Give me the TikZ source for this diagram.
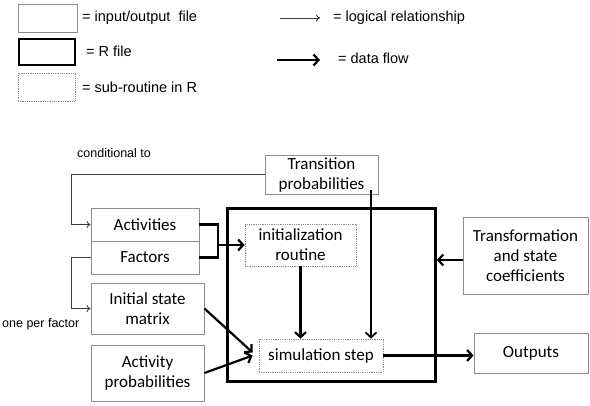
\documentclass[tikz,border=0pt]{standalone}
\usepackage{fontspec}
\setmainfont{Carlito}
\newfontfamily\legendfont{Liberation Sans}
\usetikzlibrary{arrows.meta}
\definecolor{boxgray}{RGB}{140,140,140}
\definecolor{linegray}{RGB}{60,60,60}

\begin{document}
\begin{tikzpicture}[x=1pt, y=-1pt,
  filebox/.style={draw=boxgray, line width=0.9pt, inner sep=0pt, align=center,
    font=\fontsize{17}{20}\selectfont},
  rbox/.style={draw=black, line width=2.6pt, inner sep=0pt},
  subbox/.style={draw=boxgray, line width=0.8pt, densely dotted, inner sep=0pt, align=center,
    font=\fontsize{17}{20}\selectfont},
  legendtext/.style={anchor=west, inner sep=0pt, font=\legendfont\fontsize{14.5}{17}\selectfont},
  notetext/.style={anchor=west, inner sep=0pt, font=\legendfont\fontsize{12.5}{15}\selectfont},
  logic/.style={draw=linegray, line width=0.9pt, -{To[length=4pt,width=7pt]}},
  flow/.style={draw=black, line width=2.2pt, -{Straight Barb[length=5pt,width=11pt]}}]
\useasboundingbox (0,0) rectangle (590,405);
\node [filebox, minimum width=59pt, minimum height=28pt] (legfile) at (47.5,18) {};
\node [rbox, minimum width=56pt, minimum height=26pt] (legr) at (47,52) {};
\node [subbox, minimum width=57pt, minimum height=28pt] (legsub) at (46.5,87) {};
\node [legendtext] (legfiletext) at (82,18) {= input/output\ \ file};
\node [legendtext] (legrtext) at (86,51) {= R file};
\node [legendtext] (legsubtext) at (82,87) {= sub-routine\ in R};
\coordinate (loga) at (280,18);
\coordinate (logb) at (320,18);
\draw [logic] (loga) -- (logb);
\node [legendtext] (logtext) at (333,18) {= logical relationship};
\coordinate (flowa) at (277,60);
\coordinate (flowb) at (320,60);
\draw [flow] (flowa) -- (flowb);
\node [legendtext] (flowtext) at (338,58) {= data flow};
\node [notetext] (condtext) at (77,153) {conditional to};
\node [notetext] (pertext) at (2,324) {one per factor};
\node [rbox, minimum width=208pt, minimum height=173pt] (rfile) at (331.5,295) {};
\node [filebox, minimum width=113pt, minimum height=39pt] (trans) at (321.5,174.5) {Transition\\probabilities};
\node [filebox, minimum width=108pt, minimum height=33pt] (act) at (145,224.5) {Activities};
\node [filebox, minimum width=108pt, minimum height=33pt] (fac) at (145,257.5) {Factors};
\node [filebox, minimum width=113pt, minimum height=51pt] (initst) at (147.5,308.5) {Initial state\\matrix};
\node [filebox, minimum width=113pt, minimum height=56pt] (actprob) at (147.5,373) {Activity\\probabilities};
\node [subbox, minimum width=111pt, minimum height=42pt] (initr) at (300.5,245) {initialization\\routine};
\node [subbox, minimum width=124pt, minimum height=33pt] (sim) at (321,355.5) {simulation step};
\node [filebox, minimum width=125pt, minimum height=77pt] (transf) at (525.5,255.5) {Transformation\\and state\\coefficients};
\node [filebox, minimum width=114pt, minimum height=40pt] (outp) at (531,353) {Outputs};
\draw [logic] (trans.west) -- (71,174.5) |- (act.west);
\draw [logic] (fac.west) -- (71,257.5) |- (initst.west);
\coordinate (fork) at (218,245);
\draw [black, line width=2.2pt] (act.east) -| (fork) |- (fac.east);
\draw [flow] (fork) -- (initr.west);
\draw [flow] (initr.south) -- (initr.south |- sim.north);
\coordinate (tp) at ([xshift=49.5pt,yshift=4pt]trans.south);
\draw [flow, line width=1.8pt] (tp) -- (tp |- sim.north);
\draw [flow] (initst.east) -- ([xshift=-6pt,yshift=3pt]sim.west);
\draw [flow] (actprob.east) -- ([xshift=-6pt]sim.west);
\draw [flow] (sim.east) -- (sim.east -| outp.west);
\coordinate (tf) at ([yshift=-4.5pt]transf.west);
\draw [flow] (tf) -- (tf -| rfile.east);
\end{tikzpicture}
\end{document}
